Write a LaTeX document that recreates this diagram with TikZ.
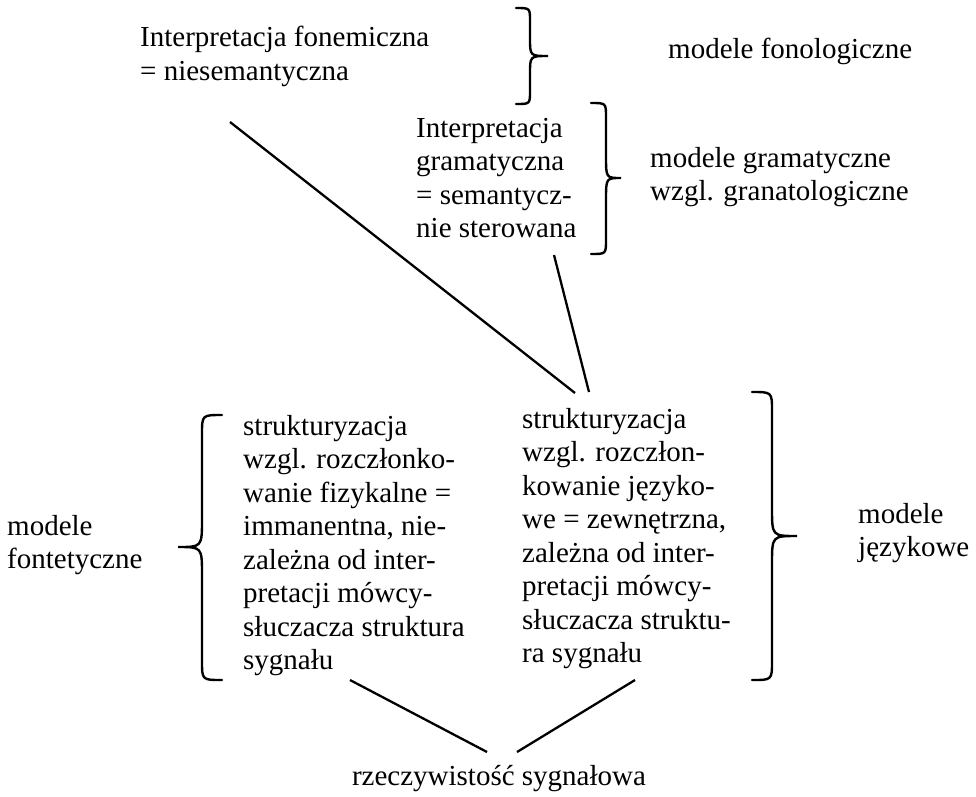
\documentclass[tikz,border=0pt]{standalone}
\usepackage{fontspec}
\setmainfont{Liberation Serif}
\newcommand{\bracedraw}[8]{% #1 end x, #2 vertical x, #3 tip x, #4 top y, #5 tip y, #6 bottom y, #7 hook r, #8 tip r
  \draw[br] (#1,#4) .. controls (#2,#4) .. (#2,{#4+#7}) -- (#2,{#5-#8})
    .. controls (#2,#5) .. (#3,#5) .. controls (#2,#5) .. (#2,{#5+#8})
    -- (#2,{#6-#7}) .. controls (#2,#6) .. (#1,#6);}
\tikzset{
  txt/.style={anchor=north west, inner sep=0pt, align=left, font=\fontsize{29}{33.5}\selectfont},
  ln/.style={line width=2.3pt},
  br/.style={line width=2.4pt, line cap=round}
}
\begin{document}
\begin{tikzpicture}[x=1pt,y=-1pt]
\fill[white] (0,0) rectangle (976,796);
\useasboundingbox (0,0) rectangle (976,796);
% texts
\node[txt] (fon) at (140,26) {Interpretacja fonemiczna\\= niesemantyczna};
\node[txt] (mfon) at (668,38) {modele fonologiczne};
\node[txt] (gram) at (416,118) {Interpretacja\\gramatyczna\\= semantycz-\\nie sterowana};
\node[txt] (mgram) at (650,147) {modele gramatyczne\\wzgl. granatologiczne};
\node[txt] (lcol) at (243,415) {strukturyzacja\\wzgl. rozczłonko-\\wanie fizykalne =\\immanentna, nie-\\zależna od inter-\\pretacji mówcy-\\słuczacza struktura\\sygnału};
\node[txt] (rcol) at (522,408) {strukturyzacja\\wzgl. rozczłon-\\kowanie języko-\\we = zewnętrzna,\\zależna od inter-\\pretacji mówcy-\\słuczacza struktu-\\ra sygnału};
\node[txt] (mfont) at (7,515) {modele\\fontetyczne};
\node[txt] (mjez) at (858,503) {modele\\językowe};
\node[txt, anchor=north] (rz) at (499,765) {rzeczywistość sygnałowa};
% braces
\bracedraw{516}{530}{548}{8}{56}{104}{13}{18}
\bracedraw{591}{606}{621}{103}{178}{254}{14}{22}
\bracedraw{222}{202}{178}{415}{547}{680}{19}{28}
\bracedraw{752}{772}{797}{392}{536}{680}{19}{28}
% connector end points
\coordinate (a1) at (230,122);
\coordinate (a2) at (575,393);
\coordinate (b1) at (554,255);
\coordinate (b2) at (589,392);
\coordinate (c1) at (350,680);
\coordinate (c2) at (487,752);
\coordinate (d1) at (635,680);
\coordinate (d2) at (517,752);
\draw[ln] (a1) -- (a2);
\draw[ln] (b1) -- (b2);
\draw[ln] (c1) -- (c2);
\draw[ln] (d1) -- (d2);
\end{tikzpicture}
\end{document}
